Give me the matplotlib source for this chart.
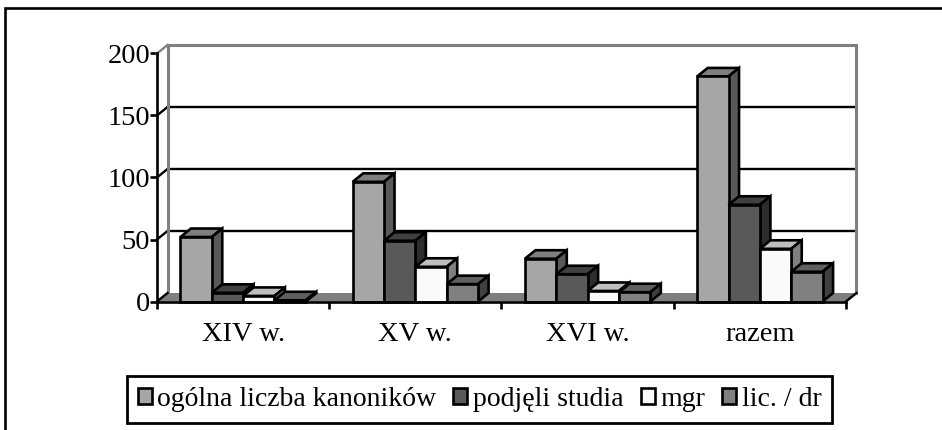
import matplotlib
matplotlib.use("Agg")
import matplotlib.pyplot as plt
from matplotlib.lines import Line2D
from matplotlib.patches import Patch

plt.rcParams['font.family'] = ['Liberation Serif', 'DejaVu Sans']

categories = ["XIV w.", "XV w.", "XVI w.", "razem"]
series_names = ["ogólna liczba kanoników", "podjęli studia", "mgr", "lic. / dr"]
ogolna = [52, 96.5, 34.5, 181.5]
podjeli = [7, 49, 22, 78]
mgr = [4.5, 28, 8.5, 42.5]
lic_dr = [1, 14, 7.5, 24]
y_ticks = [0, 50, 100, 150, 200]

# front, side, top
colors = [("#A6A6A6", "#595959", "#7F7F7F"),
          ("#595959", "#2D2D2D", "#404040"),
          ("#FAFAFA", "#7F7F7F", "#BFBFBF"),
          ("#808080", "#404040", "#606060")]

W, H = 942, 430
fig = plt.figure(figsize=(W / 100, H / 100), dpi=100)
ax = fig.add_axes([157 / W, 1 - 301.5 / H, 689 / W, 248 / H])
ax.set_xlim(0, 4)
ax.set_ylim(0, 200)

# depth of the fake 3d box, in data units
DX = 10.5 * 4 / 689
DY = 8.5 * 200 / 248
BAR_W = 0.182
GROUP_PAD = 0.136
LW = 1.9


def poly(xs, ys, color, z, lw=0, edge="black"):
    ax.fill(xs, ys, facecolor=color, edgecolor=edge, linewidth=lw, zorder=z,
            clip_on=False, joinstyle="miter")


def bar3d(x, v, cols, z):
    poly([x, x + BAR_W, x + BAR_W + DX, x + DX], [v, v, v + DY, v + DY], cols[2], z, LW)
    poly([x + BAR_W, x + BAR_W + DX, x + BAR_W + DX, x + BAR_W], [0, DY, v + DY, v], cols[1], z, LW)
    poly([x, x + BAR_W, x + BAR_W, x], [0, 0, v, v], cols[0], z, LW)


# floor
poly([0, 4, 4 + DX, DX], [0, 0, DY, DY], "#7F7F7F", 1)

# grid on the back wall and the slanted bits on the left wall
for t in y_ticks[1:4]:
    ax.plot([DX, 4 + DX], [t + DY, t + DY], color="black", lw=1.7, zorder=2, clip_on=False)
    ax.plot([0, DX], [t, t + DY], color="black", lw=1.7, zorder=2, clip_on=False)

# back wall outline
ax.plot([DX, DX, 4 + DX, 4 + DX], [DY, 200 + DY, 200 + DY, DY], color="#808080", lw=2.2,
        zorder=2, clip_on=False, solid_joinstyle="miter")
ax.plot([0, DX], [200, 200 + DY], color="#808080", lw=1.7, zorder=2, clip_on=False)
ax.plot([0, DX], [0, DY], color="black", lw=1.7, zorder=2, clip_on=False)
ax.plot([4, 4 + DX], [0, DY], color="black", lw=1.7, zorder=2, clip_on=False)

all_series = [ogolna, podjeli, mgr, lic_dr]
z = 3
for i in range(len(categories)):
    for j, s in enumerate(all_series):
        bar3d(i + GROUP_PAD + j * BAR_W, s[i], colors[j], z)
        z += 1

ax.patch.set_visible(False)
for side in ["top", "right"]:
    ax.spines[side].set_visible(False)
for side in ["left", "bottom"]:
    ax.spines[side].set_linewidth(1.9)
    ax.spines[side].set_zorder(50)

ax.set_yticks(y_ticks)
ax.set_xticks(range(5))
ax.set_xticklabels([])
ax.set_xticks([i + 0.5 for i in range(4)], categories, minor=True)
ax.tick_params(axis="x", which="minor", length=0, pad=15, labelsize=20.5)
ax.tick_params(axis="x", which="major", length=5, width=1.9)
ax.tick_params(axis="y", length=5, width=1.9, pad=0, labelsize=20.5)

handles = [Patch(facecolor=c[0], edgecolor="black", linewidth=1.9) for c in colors]
leg = fig.legend(handles, series_names, ncol=4, loc="center",
                 bbox_to_anchor=(479.5 / W, 1 - 399.5 / H),
                 fontsize=20, frameon=True, fancybox=False, edgecolor="black",
                 framealpha=1, handlelength=0.5, handleheight=0.5, handletextpad=0.2,
                 columnspacing=0.62, borderpad=0.38, borderaxespad=0)
leg.get_frame().set_linewidth(2)

# page frame, cut by the edge of the picture
fig.add_artist(Line2D([4.5 / W, 4.5 / W, 1], [0, 1 - 8 / H, 1 - 8 / H], color="black", lw=1.9,
                      solid_joinstyle="miter"))

fig.savefig("out.png", dpi=100)
